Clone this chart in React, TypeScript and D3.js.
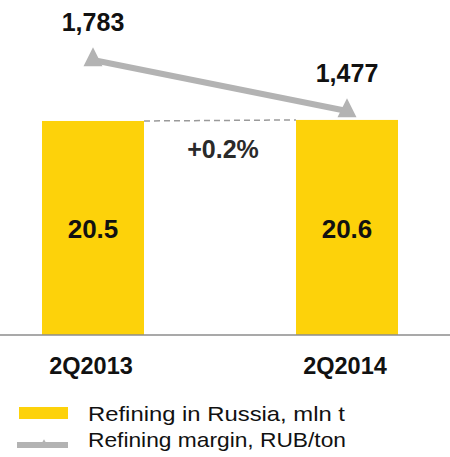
import React from "react";
import * as d3 from "d3";

const categories = ["2Q2013", "2Q2014"];
const refiningValues = [20.5, 20.6];
const marginValues = [1783, 1477];
const changeLabel = "+0.2%";
const legendLabels = ["Refining in Russia, mln t", "Refining margin, RUB/ton"];

const W = 450;
const H = 457;
const YELLOW = "#FDD20A";
const GRAY = "#B3B3B3";

function triPath(w: number, h: number) {
  const p = d3.path();
  p.moveTo(0, (-2 * h) / 3);
  p.lineTo(w / 2, h / 3);
  p.lineTo(-w / 2, h / 3);
  p.closePath();
  return p.toString();
}

export default function App() {
  const x = d3.scalePoint<string>().domain(categories).range([93, 347]);
  const barW = 102;
  const y = d3.scaleLinear().domain([0, 32]).range([335, 335 - 10.44 * 32]);
  const yM = d3.scaleLinear().domain([1000, 2000]).range([190.5, 23.8]);
  const fmt = d3.format(",");
  const linePts: [number, number][] = categories.map((c, i) => [x(c)!, yM(marginValues[i])]);
  const line = d3.line();
  const tri = triPath(19, 19);
  const triSmall = triPath(8, 7);

  const bar0Right = x(categories[0])! + barW / 2;
  const bar1Left = x(categories[1])! - barW / 2;

  return (
    <svg
      width={W}
      height={H}
      style={{ position: "absolute", left: 0, top: 0, fontFamily: "Arial, 'Liberation Sans', sans-serif" }}
    >
      <rect width={W} height={H} fill="#fff" />
      {categories.map((c, i) => (
        <rect
          key={c}
          x={x(c)! - barW / 2}
          y={y(refiningValues[i])}
          width={barW}
          height={y(0) - y(refiningValues[i])}
          fill={YELLOW}
        />
      ))}
      <line
        x1={bar0Right}
        y1={y(refiningValues[0])}
        x2={bar1Left}
        y2={y(refiningValues[1])}
        stroke="#9a9a9a"
        strokeWidth={1.5}
        strokeDasharray="6,4"
      />
      <line x1={0} x2={W} y1={y(0)} y2={y(0)} stroke="#8c8c8c" strokeWidth={1.5} />
      <path d={line(linePts)!} stroke={GRAY} strokeWidth={6} fill="none" />
      {linePts.map((p, i) => (
        <path key={i} d={tri} transform={`translate(${p[0]},${p[1]})`} fill={GRAY} />
      ))}
      {categories.map((c, i) => (
        <text
          key={"m" + c}
          x={x(c)!}
          y={yM(marginValues[i]) - 29}
          textAnchor="middle"
          fontSize={25}
          fontWeight="bold"
          fill="#111"
        >
          {fmt(marginValues[i])}
        </text>
      ))}
      {categories.map((c, i) => (
        <text
          key={"v" + c}
          x={x(c)!}
          y={238}
          textAnchor="middle"
          fontSize={26}
          fontWeight="bold"
          fill="#111"
        >
          {refiningValues[i].toFixed(1)}
        </text>
      ))}
      <text x={223} y={158} textAnchor="middle" fontSize={25} fontWeight="bold" fill="#2a2a2a">
        {changeLabel}
      </text>
      {categories.map((c) => (
        <text
          key={"c" + c}
          x={x(c)! - 2}
          y={374}
          textAnchor="middle"
          fontSize={23.5}
          fontWeight="bold"
          fill="#111"
        >
          {c}
        </text>
      ))}
      <rect x={19} y={407} width={49} height={12} fill={YELLOW} />
      <line x1={17} x2={68} y1={445} y2={445} stroke={GRAY} strokeWidth={6} />
      <path d={triSmall} transform="translate(44,444)" fill={GRAY} />
      <text x={88} y={421} fontSize={21} fill="#111" textLength={257} lengthAdjust="spacingAndGlyphs">
        {legendLabels[0]}
      </text>
      <text x={88} y={447} fontSize={21} fill="#111" textLength={258} lengthAdjust="spacingAndGlyphs">
        {legendLabels[1]}
      </text>
    </svg>
  );
}
